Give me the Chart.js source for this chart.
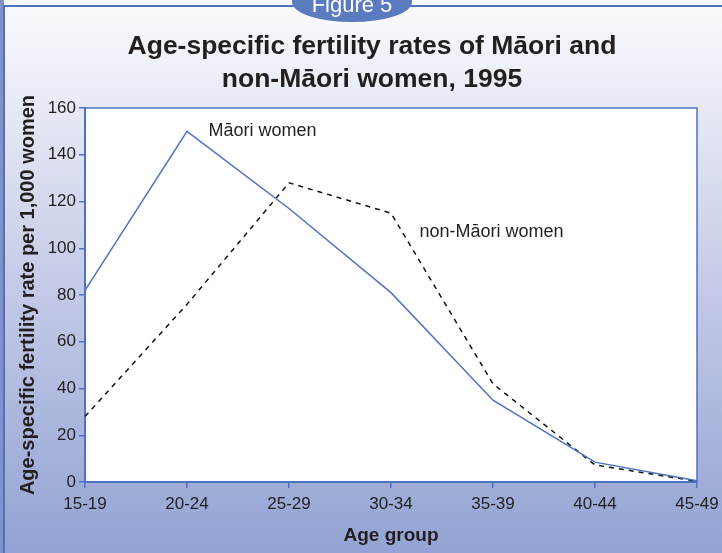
<!DOCTYPE html>
<html>
<head>
<meta charset="utf-8">
<script src="https://cdn.jsdelivr.net/npm/chart.js@4/dist/chart.umd.min.js"></script>
<style>
  html, body { margin: 0; padding: 0; }
  body { width: 722px; height: 553px; overflow: hidden; }
  #wrap { position: relative; width: 722px; height: 553px; }
</style>
</head>
<body>
<div id="wrap"><canvas id="myChart" width="722" height="553"></canvas></div>
<script>
var ageGroups = ['15-19', '20-24', '25-29', '30-34', '35-39', '40-44', '45-49'];
var maoriRates = [82, 150, 117, 81, 35, 8.5, 0.5];
var nonMaoriRates = [28, 76, 128, 115, 42, 7.3, 0.3];
var yTicks = [0, 20, 40, 60, 80, 100, 120, 140, 160];

var titleLines = ['Age-specific fertility rates of M\u0101ori and', 'non-M\u0101ori women, 1995'];
var seriesNotes = ['M\u0101ori women', 'non-M\u0101ori women'];

var blue = '#4f72c0';
var font = '"Liberation Sans", Arial, Helvetica, sans-serif';

// background, frame, "Figure 5" tab and heading
var backdrop = {
    id: 'backdrop',
    beforeDraw: function(chart) {
        var c = chart.ctx;
        var w = chart.width, h = chart.height;
        c.save();
        var g = c.createLinearGradient(0, 0, 0, h);
        g.addColorStop(0, '#fbfbfe');
        g.addColorStop(0.15, '#eceef7');
        g.addColorStop(0.5, '#c6cce8');
        g.addColorStop(1, '#93a3d3');
        c.fillStyle = g;
        c.fillRect(0, 0, w, h);
        // left strip
        c.fillStyle = '#8292c8';
        c.fillRect(0, 0, 4, h);
        // frame line
        c.strokeStyle = blue;
        c.lineWidth = 2;
        c.beginPath();
        c.moveTo(4, h);
        c.lineTo(4, 6);
        c.lineTo(w, 6);
        c.stroke();
        // tab
        c.fillStyle = '#5b7bc0';
        c.beginPath();
        c.ellipse(352, 2, 60, 20, 0, 0, Math.PI * 2);
        c.fill();
        c.fillStyle = '#ffffff';
        c.font = '22px ' + font;
        c.textAlign = 'center';
        c.textBaseline = 'middle';
        c.fillText('Figure 5', 352, 6);
        // heading
        c.fillStyle = '#231f20';
        c.font = 'bold 26.5px ' + font;
        c.fillText(titleLines[0], 372, 47);
        c.fillText(titleLines[1], 372, 80);
        // plot background
        var a = chart.chartArea;
        c.fillStyle = '#ffffff';
        c.fillRect(a.left, a.top, a.right - a.left, a.bottom - a.top);
        c.restore();
    },
    afterDatasetsDraw: function(chart) {
        var c = chart.ctx;
        var a = chart.chartArea;
        var x = chart.scales.x, y = chart.scales.y;
        c.save();
        c.strokeStyle = blue;
        c.lineWidth = 1.5;
        c.beginPath();
        c.moveTo(a.left, a.top);
        c.lineTo(a.right, a.top);
        c.lineTo(a.right, a.bottom);
        c.stroke();
        c.fillStyle = '#231f20';
        c.font = '18px ' + font;
        c.textAlign = 'left';
        c.textBaseline = 'middle';
        c.fillText(seriesNotes[0], x.getPixelForValue(1.21), y.getPixelForValue(150));
        c.fillText(seriesNotes[1], x.getPixelForValue(3.28), y.getPixelForValue(107));
        c.restore();
    }
};

var ctx = document.getElementById('myChart').getContext('2d');
var myChart = new Chart(ctx, {
    type: 'line',
    data: {
        labels: ageGroups,
        datasets: [{
            label: seriesNotes[0],
            data: maoriRates,
            borderColor: blue,
            borderWidth: 1.5,
            pointRadius: 0,
            tension: 0
        }, {
            label: seriesNotes[1],
            data: nonMaoriRates,
            borderColor: '#111111',
            borderWidth: 1.5,
            borderDash: [5, 5],
            pointRadius: 0,
            tension: 0
        }]
    },
    options: {
        responsive: false,
        animation: false,
        layout: { padding: { top: 108, right: 25, left: 0, bottom: 0 } },
        plugins: {
            legend: { display: false },
            tooltip: { enabled: false }
        },
        scales: {
            x: {
                offset: false,
                grid: { display: true, drawOnChartArea: false, color: blue, tickLength: 6, lineWidth: 1.5 },
                border: { color: blue, width: 2 },
                ticks: { color: '#231f20', font: { family: font, size: 17 }, padding: 6, maxRotation: 0 },
                title: {
                    display: true,
                    text: 'Age group',
                    color: '#231f20',
                    font: { family: font, size: 19, weight: 'bold' },
                    padding: { top: 0, bottom: 6 }
                },
                afterFit: function(scale) {
                    scale.height = 71;
                    scale.paddingLeft = 0;
                    scale.paddingRight = 0;
                }
            },
            y: {
                min: 0,
                max: 160,
                afterBuildTicks: function(scale) {
                    scale.ticks = yTicks.map(function(v) { return { value: v }; });
                },
                grid: { display: true, drawOnChartArea: false, color: blue, tickLength: 6, lineWidth: 1.5 },
                border: { color: blue, width: 2 },
                ticks: { color: '#231f20', font: { family: font, size: 17 }, padding: 3 },
                title: {
                    display: true,
                    text: 'Age-specific fertility rate per 1,000 women',
                    color: '#231f20',
                    font: { family: font, size: 20, weight: 'bold' },
                    padding: { top: 16, bottom: 0 }
                },
                afterFit: function(scale) { scale.width = 85; }
            }
        }
    },
    plugins: [backdrop]
});
</script>
</body>
</html>
